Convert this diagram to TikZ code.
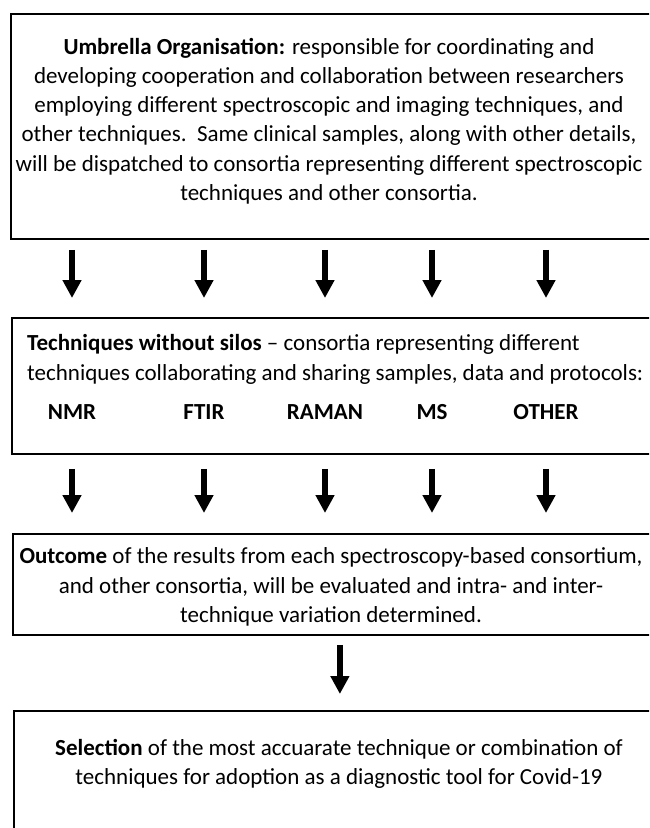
\documentclass[tikz,border=0pt]{standalone}
\usepackage{fontspec}
\setmainfont{Carlito}
\usetikzlibrary{arrows.meta}

\begin{document}
\begin{tikzpicture}[
        x=1pt, y=-1pt,
        box/.style={
            draw,
            line width=1.8pt,
            anchor=north west,
            inner sep=0pt
        },
        txt/.style={
            inner sep=0pt,
            align=center,
            font=\fontsize{23}{29.2}\selectfont
        },
        tech/.style={
            inner sep=0pt,
            anchor=base,
            font=\fontsize{23}{29.2}\selectfont\bfseries
        },
        arrow/.style={-{Triangle[length=18pt,width=18pt]}, line width=6pt}
    ]

    \useasboundingbox (0,0) rectangle (649,828);
    \clip (0,0) rectangle (649,828);

    % boxes
    \node[box, minimum width=640pt, minimum height=225pt] (umb) at (10,13) {};
    \node[box, minimum width=640pt, minimum height=136pt] (tws) at (11,317) {};
    \node[box, minimum width=640pt, minimum height=101pt] (outc) at (12,533) {};
    \node[box, minimum width=652pt, minimum height=160pt] (sel) at (13,710) {};

    % texts
    \node[txt] (umbtxt) at (329,121) {\textbf{Umbrella Organisation:} responsible for coordinating and\\
        developing cooperation and collaboration between researchers\\
        employing different spectroscopic and imaging techniques, and\\
        other techniques.\ \ Same clinical samples, along with other details,\\
        will be dispatched to consortia representing different spectroscopic\\
        techniques and other consortia.};

    \node[txt, align=left, anchor=base west] (twstxt) at (27,380) {\textbf{Techniques without silos} – consortia representing different\\
        techniques collaborating and sharing samples, data and protocols:};

    \node[tech] (nmr) at (72,419) {NMR};
    \node[tech] (ftir) at (204,419) {FTIR};
    \node[tech] (raman) at (325,419) {RAMAN};
    \node[tech] (ms) at (432,419) {MS};
    \node[tech] (other) at (546,419) {OTHER};

    \node[txt] (outctxt) at (331,587) {\textbf{Outcome} of the results from each spectroscopy-based consortium,\\
        and other consortia, will be evaluated and intra- and inter-\\
        technique variation determined.};

    \node[txt] (seltxt) at (339,764) {\textbf{Selection} of the most accuarate technique or combination of\\
        techniques for adoption as a diagnostic tool for Covid-19};

    % arrows
    \foreach \t in {nmr,ftir,raman,ms,other} {
        \draw[arrow, shorten <=10pt, shorten >=19pt] (umb.south -| \t) -- (tws.north -| \t);
        \draw[arrow, shorten <=14pt, shorten >=20pt] (tws.south -| \t) -- (outc.north -| \t);
    }
    \draw[arrow, shorten <=9pt, shorten >=16pt] (outc.south -| sel.north) -- (sel.north);

\end{tikzpicture}
\end{document}
